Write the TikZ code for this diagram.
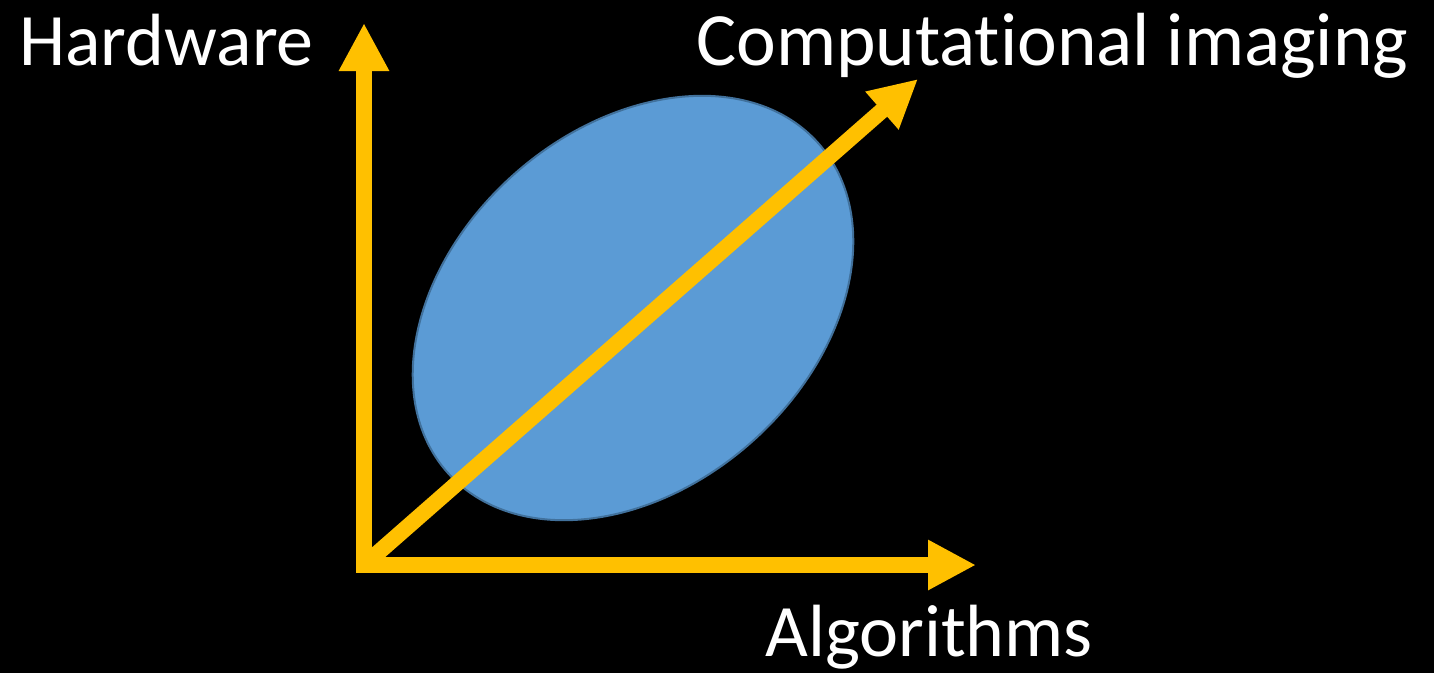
\documentclass[tikz,border=0pt]{standalone}
\usepackage{fontspec}
\setmainfont{Carlito}[Ligatures=NoCommon]
\usetikzlibrary{arrows.meta,shapes.geometric}
\definecolor{arrowgold}{HTML}{FFC000}
\definecolor{blobfill}{HTML}{5B9BD5}
\definecolor{blobline}{HTML}{41719C}
\tikzset{
  axisarrow/.style={draw=arrowgold, line width=16pt, line join=miter,
    arrows={-Triangle[length=48pt,width=47pt]}},
  bothaxes/.style={draw=arrowgold, line width=16pt, line join=miter,
    arrows={Triangle[length=48pt,width=47pt]-Triangle[length=48pt,width=47pt]}},
  label/.style={text=white, font=\fontsize{74}{80}\selectfont, inner sep=0pt, anchor=base west},
  blob/.style={ellipse, fill=blobfill, draw=blobline, line width=2pt,
    minimum width=496pt, minimum height=358pt, inner sep=0pt}
}
\begin{document}
\begin{tikzpicture}[x=1pt,y=-1pt]
  \fill[black] (0,0) rectangle (1434,673);
  \useasboundingbox (0,0) rectangle (1434,673);
  \node[blob, rotate=41.6] (region) at (633,308) {};
  \coordinate (o) at (364,565);
  \coordinate (hw) at (364,23);
  \coordinate (al) at (976,565);
  \coordinate (ci) at (918,79);
  \draw[bothaxes] (hw) -- (o) -- (al);
  \draw[axisarrow] (o) -- (ci);
  \node[label] (hwlabel) at (19,65) {Hardware};
  \node[label, font=\fontsize{75.3}{80}\selectfont] (cilabel) at (696,65) {Computational imaging};
  \node[label] (allabel) at (765,656) {Algorithms};
\end{tikzpicture}
\end{document}
